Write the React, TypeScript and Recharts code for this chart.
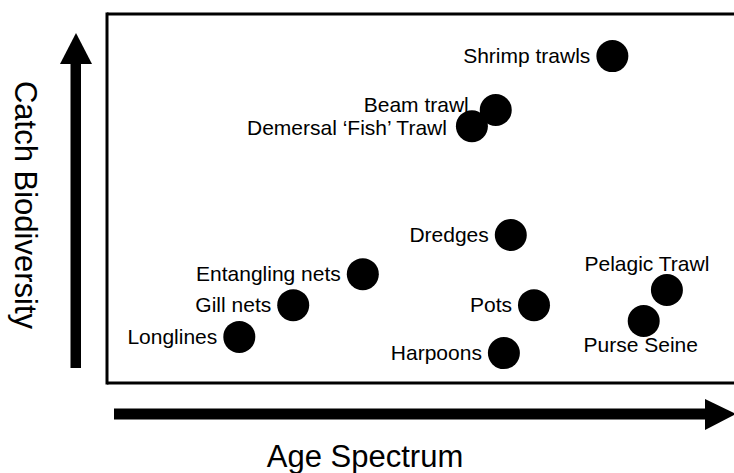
import { ScatterChart, Scatter, XAxis, YAxis, ReferenceLine } from "recharts";

const gearNames = [
  "Shrimp trawls",
  "Beam trawl",
  "Demersal \u2018Fish\u2019 Trawl",
  "Dredges",
  "Entangling nets",
  "Gill nets",
  "Longlines",
  "Pots",
  "Harpoons",
  "Pelagic Trawl",
  "Purse Seine",
];
const ageSpectrum = [80.6, 62.0, 58.2, 64.4, 40.8, 29.7, 21.1, 68.1, 63.3, 89.3, 85.6];
const catchBiodiversity = [88.6, 74.0, 69.6, 40.1, 29.5, 21.1, 12.5, 21.1, 8.1, 25.2, 16.8];
// where the name sits relative to its dot (default: left)
const labelSide: Record<string, string> = {
  "Beam trawl": "upperLeft",
  "Demersal \u2018Fish\u2019 Trawl": "lowerLeft",
  "Pelagic Trawl": "above",
  "Purse Seine": "below",
};

const data = gearNames.map((name, i) => ({
  name,
  x: ageSpectrum[i],
  y: catchBiodiversity[i],
}));

const FONT = "'Liberation Sans', Arial, sans-serif";
const R = 16;

function GearDot(props: any) {
  const { cx, cy, payload } = props;
  const side = labelSide[payload.name] || "left";
  let tx = cx - R - 6;
  let ty = cy + 7;
  let anchor: "end" | "middle" = "end";
  if (side === "upperLeft") {
    tx = cx - R - 11;
    ty = cy + 2;
  } else if (side === "lowerLeft") {
    tx = cx - R - 9;
    ty = cy + 9;
  } else if (side === "above") {
    tx = cx - 20;
    ty = cy - 19;
    anchor = "middle";
  } else if (side === "below") {
    tx = cx - 3;
    ty = cy + 31;
    anchor = "middle";
  }
  return (
    <g>
      <circle cx={cx} cy={cy} r={R} fill="#000" />
      <text x={tx} y={ty} textAnchor={anchor} fontSize={21} fontFamily={FONT} fill="#000">
        {payload.name}
      </text>
    </g>
  );
}

export default function App() {
  return (
    <div style={{ position: "absolute", left: 0, top: 0, width: 734, height: 473, background: "#fff" }}>
      <ScatterChart width={734} height={473} margin={{ top: 14, right: 0, bottom: 90, left: 107 }}>
        <XAxis type="number" dataKey="x" domain={[0, 100]} hide />
        <YAxis type="number" dataKey="y" domain={[0, 100]} hide />
        <ReferenceLine y={100} stroke="#000" strokeWidth={3} />
        <ReferenceLine y={0} stroke="#000" strokeWidth={3} />
        <ReferenceLine x={0} stroke="#000" strokeWidth={3} strokeLinecap="square" />
        <Scatter data={data} shape={GearDot} isAnimationActive={false} />
      </ScatterChart>
      <svg
        width={734}
        height={473}
        style={{ position: "absolute", left: 0, top: 0, pointerEvents: "none" }}
      >
        {/* vertical arrow */}
        <rect x={70.5} y={62} width={10.5} height={306} fill="#000" />
        <polygon points="60,64 92,64 76,33" fill="#000" />
        {/* horizontal arrow */}
        <rect x={114} y={408.5} width={593} height={11} fill="#000" />
        <polygon points="705,399 705,430 736,414" fill="#000" />
        <text
          x={15}
          y={205}
          transform="rotate(90, 15, 205)"
          textAnchor="middle"
          fontSize={31}
          fontFamily={FONT}
          fill="#000"
        >
          Catch Biodiversity
        </text>
        <text x={365} y={467} textAnchor="middle" fontSize={31} fontFamily={FONT} fill="#000">
          Age Spectrum
        </text>
      </svg>
    </div>
  );
}
